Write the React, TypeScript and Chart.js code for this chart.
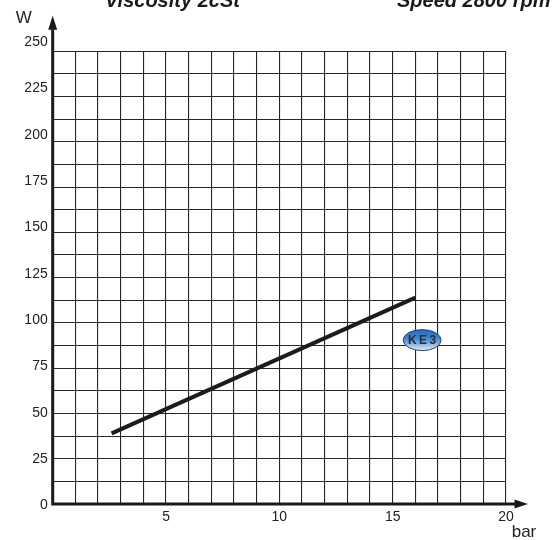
import React, { useEffect, useRef } from 'react';
import { Chart, registerables } from 'chart.js';

Chart.register(...registerables);

const FONT = '"Liberation Sans", Arial, Helvetica, sans-serif';

// ---- chart content ----
const titleLeft = 'Viscosity 2cSt';
const titleRight = 'Speed 2800 rpm';
const yAxisLabel = 'W';
const xAxisLabel = 'bar';
const seriesName = 'KE3';

// pressure (bar) vs power (W)
const pressureBar = [2.6, 16];
const powerW = [39, 114];

// badge anchor (data units)
const badgeX = 16.3;
const badgeY = 90.5;

// axes
const xMin = 0;
const xMax = 20;
const xGridStep = 1;
const xTickLabels = [5, 10, 15, 20];
const yMin = 0;
const yMax = 250;
const yGridStep = 12.5;
const yTickLabels = [0, 25, 50, 75, 100, 125, 150, 175, 200, 225, 250];

const overlayPlugin = {
  id: 'overlay',
  afterDatasetsDraw(chart: any) {
    const { ctx, chartArea: a, scales } = chart;
    ctx.save();
    // thick axes with arrows
    ctx.strokeStyle = '#1a1a1a';
    ctx.fillStyle = '#1a1a1a';
    ctx.lineWidth = 3;
    ctx.beginPath();
    ctx.moveTo(a.left, a.bottom + 1.5);
    ctx.lineTo(a.left, a.top - 22);
    ctx.moveTo(a.left - 1.5, a.bottom);
    ctx.lineTo(a.right + 10, a.bottom);
    ctx.stroke();
    ctx.beginPath();
    ctx.moveTo(a.left, a.top - 35.5);
    ctx.lineTo(a.left - 4.5, a.top - 21.5);
    ctx.lineTo(a.left + 4.5, a.top - 21.5);
    ctx.closePath();
    ctx.fill();
    ctx.beginPath();
    ctx.moveTo(a.right + 22, a.bottom);
    ctx.lineTo(a.right + 8.5, a.bottom - 4.5);
    ctx.lineTo(a.right + 8.5, a.bottom + 4.5);
    ctx.closePath();
    ctx.fill();

    // series badge
    const cx = scales.x.getPixelForValue(badgeX);
    const cy = scales.y.getPixelForValue(badgeY);
    const rx = 19;
    const ry = 10.5;
    const g = ctx.createLinearGradient(cx, cy - ry, cx, cy + ry);
    g.addColorStop(0, '#1e6cc0');
    g.addColorStop(0.45, '#3f8ad6');
    g.addColorStop(1, '#e4eef8');
    ctx.beginPath();
    ctx.ellipse(cx, cy, rx, ry, 0, 0, Math.PI * 2);
    ctx.fillStyle = g;
    ctx.fill();
    ctx.lineWidth = 1;
    ctx.strokeStyle = '#34405a';
    ctx.stroke();
    ctx.fillStyle = '#2e2e2e';
    ctx.font = `bold 12px ${FONT}`;
    ctx.textAlign = 'center';
    ctx.textBaseline = 'middle';
    try {
      (ctx as any).letterSpacing = '2.5px';
    } catch (e) {}
    ctx.fillText(seriesName, cx + 1.2, cy + 0.5);
    try {
      (ctx as any).letterSpacing = '0px';
    } catch (e) {}
    ctx.restore();
  },
  afterDraw(chart: any) {
    const { ctx, chartArea: a } = chart;
    ctx.save();
    ctx.fillStyle = '#1a1a1a';
    ctx.font = `italic bold 20px ${FONT}`;
    ctx.textAlign = 'left';
    ctx.textBaseline = 'alphabetic';
    ctx.fillText(titleLeft, 105, 7);
    ctx.fillText(titleRight, 397, 7);
    ctx.fillStyle = '#222';
    ctx.font = `17px ${FONT}`;
    ctx.textAlign = 'center';
    ctx.textBaseline = 'middle';
    ctx.fillText(yAxisLabel, a.left - 29, a.top - 33);
    ctx.textBaseline = 'alphabetic';
    ctx.fillText(xAxisLabel, a.right + 18, a.bottom + 33);
    ctx.restore();
  },
};

export default function App() {
  const ref = useRef<HTMLCanvasElement | null>(null);

  useEffect(() => {
    document.body.style.margin = '0';
    const canvas = ref.current;
    if (!canvas) return;
    const gridColor = '#262626';
    const chart = new Chart(canvas, {
      type: 'scatter',
      data: {
        datasets: [
          {
            label: seriesName,
            data: pressureBar.map((x, i) => ({ x, y: powerW[i] })),
            showLine: true,
            borderColor: '#1c1c1c',
            borderWidth: 4,
            borderCapStyle: 'butt',
            pointRadius: 0,
            pointHoverRadius: 0,
            fill: false,
          },
        ],
      },
      options: {
        animation: false,
        responsive: false,
        devicePixelRatio: 1,
        events: [],
        font: { family: FONT },
        layout: { padding: { top: 51.3, right: 54, left: 0, bottom: 0 } },
        plugins: {
          legend: { display: false },
          tooltip: { enabled: false },
          title: { display: false },
        },
        scales: {
          x: {
            type: 'linear',
            min: xMin,
            max: xMax,
            border: { display: false },
            grid: { color: gridColor, lineWidth: 1.1, drawTicks: false },
            ticks: {
              stepSize: xGridStep,
              autoSkip: false,
              maxRotation: 0,
              padding: 5,
              color: '#222',
              font: { family: FONT, size: 14 },
              callback: (v: any) => (xTickLabels.includes(Number(v)) ? String(v) : ''),
            },
            afterFit: (s: any) => {
              s.height = 36;
            },
          },
          y: {
            type: 'linear',
            position: 'left',
            min: yMin,
            max: yMax,
            border: { display: false },
            grid: { color: gridColor, lineWidth: 1.1, drawTicks: false },
            ticks: { stepSize: yGridStep, display: false },
            afterFit: (s: any) => {
              s.width = 0;
            },
          },
          yLabels: {
            type: 'linear',
            position: 'left',
            min: 0.72,
            max: 244.99,
            border: { display: false },
            grid: { display: false, drawTicks: false },
            ticks: {
              autoSkip: false,
              padding: 5,
              color: '#222',
              font: { family: FONT, size: 14 },
              callback: (v: any) => String(v),
            },
            afterBuildTicks: (s: any) => {
              s.ticks = yTickLabels.map((v) => ({ value: v }));
            },
            afterFit: (s: any) => {
              s.width = 52.7;
            },
          },
        },
      } as any,
      plugins: [overlayPlugin],
    });
    return () => chart.destroy();
  }, []);

  return <canvas ref={ref} width={560} height={540} style={{ display: 'block' }} />;
}
